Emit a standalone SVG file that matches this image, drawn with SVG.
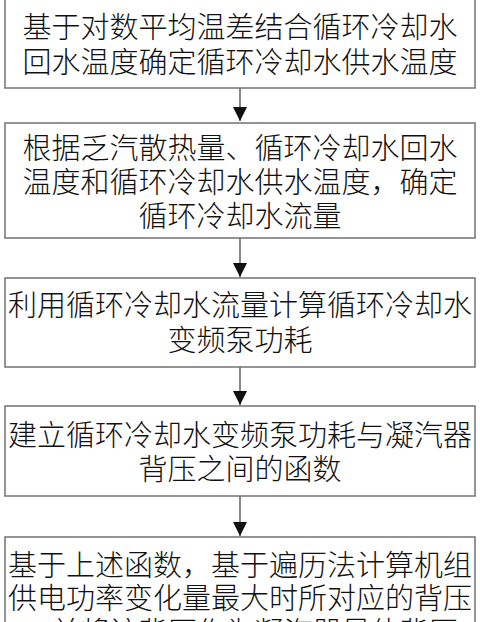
<svg xmlns="http://www.w3.org/2000/svg" width="480" height="622" viewBox="0 0 480 622">
<style>
.box{fill:#fff;stroke:#7a7a7a;stroke-width:1.6}
.t{font-family:"Noto Sans CJK SC","Noto Sans CJK JP",sans-serif;font-size:29px;font-weight:300;fill:#111;text-anchor:middle;dominant-baseline:central}
.c{stroke:#6a6a6a;stroke-width:1.6;fill:none}
</style>
<defs>
<marker id="ah" viewBox="0 0 14 14" refX="14" refY="7" markerWidth="14" markerHeight="14" markerUnits="userSpaceOnUse" orient="auto">
<path d="M0,0 L14,7 L0,14 z" fill="#111"/>
</marker>
</defs>
<rect width="480" height="622" fill="#fff"/>
<g id="n1">
<rect class="box" x="5" y="-2" width="470" height="90"/>
<text class="t" x="240" y="25">基于对数平均温差结合循环冷却水</text>
<text class="t" x="240" y="60">回水温度确定循环冷却水供水温度</text>
</g>
<g id="n2">
<rect class="box" x="5" y="123" width="470" height="115"/>
<text class="t" x="240" y="146">根据乏汽散热量、循环冷却水回水</text>
<text class="t" x="240" y="180">温度和循环冷却水供水温度，确定</text>
<text class="t" x="240" y="214">循环冷却水流量</text>
</g>
<g id="n3">
<rect class="box" x="5" y="278" width="470" height="89"/>
<text class="t" x="240" y="303">利用循环冷却水流量计算循环冷却水</text>
<text class="t" x="240" y="338">变频泵功耗</text>
</g>
<g id="n4">
<rect class="box" x="5" y="406" width="470" height="90"/>
<text class="t" x="240" y="433">建立循环冷却水变频泵功耗与凝汽器</text>
<text class="t" x="240" y="467">背压之间的函数</text>
</g>
<g id="n5">
<rect class="box" x="5" y="537" width="470" height="110"/>
<text class="t" x="240" y="563">基于上述函数，基于遍历法计算机组</text>
<text class="t" x="240" y="596">供电功率变化量最大时所对应的背压</text>
<text class="t" x="240" y="630">，并将该背压作为凝汽器最佳背压</text>
</g>
<g id="connectors">
<line class="c" x1="240" y1="88" x2="240" y2="121" marker-end="url(#ah)"/>
<line class="c" x1="240" y1="238" x2="240" y2="277" marker-end="url(#ah)"/>
<line class="c" x1="240" y1="367" x2="240" y2="405" marker-end="url(#ah)"/>
<line class="c" x1="240" y1="496" x2="240" y2="536" marker-end="url(#ah)"/>
</g>
</svg>
